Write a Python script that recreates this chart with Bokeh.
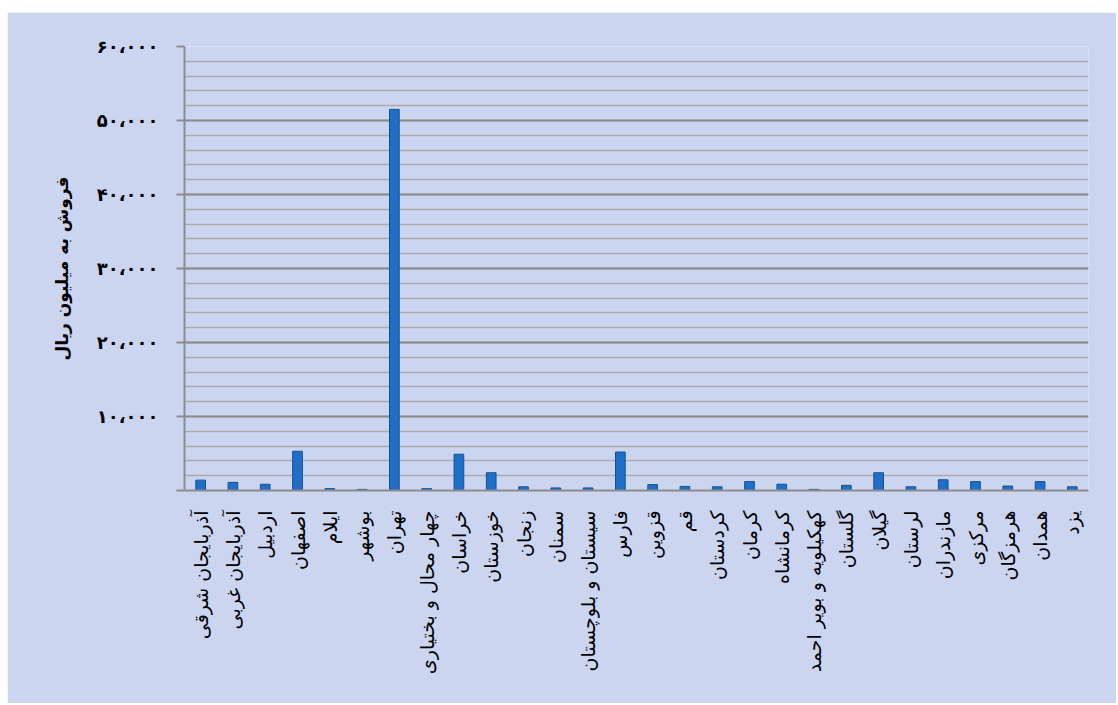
import math
from bokeh.plotting import figure
from bokeh.models import FixedTicker, Range1d, FactorRange
from bokeh.embed import file_html
from bokeh.resources import INLINE

provinces = ["آذربایجان شرقی", "آذربایجان غربی", "اردبیل", "اصفهان", "ایلام", "بوشهر",
             "تهران", "چهار محال و بختیاری", "خراسان", "خوزستان", "زنجان", "سمنان",
             "سیستان و بلوچستان", "فارس", "قزوین", "قم", "کردستان", "کرمان", "کرمانشاه",
             "کهکیلویه و بویر احمد", "گلستان", "گیلان", "لرستان", "مازندران", "مرکزی",
             "هرمزگان", "همدان", "یزد"]
sales = [1400, 1100, 850, 5300, 250, 150, 51500, 250, 4900, 2400, 500, 350,
         350, 5200, 800, 550, 500, 1200, 850, 150, 700, 2400, 500, 1450, 1200,
         600, 1200, 500]
tick_values = [0, 10000, 20000, 30000, 40000, 50000, 60000]
tick_labels = ["", "۱۰،۰۰۰", "۲۰،۰۰۰", "۳۰،۰۰۰", "۴۰،۰۰۰", "۵۰،۰۰۰", "۶۰،۰۰۰"]
y_title = "فروش به میلیون ریال"

bg = "#ccd5f0"
p = figure(width=1109, height=691, x_range=FactorRange(*provinces),
           y_range=Range1d(0, 60000), output_backend="svg", toolbar_location=None,
           min_border_left=177, min_border_right=28, min_border_top=34,
           min_border_bottom=213)
p.margin = (12, 0, 0, 7)
p.background_fill_color = bg
p.border_fill_color = bg
p.outline_line_color = None

p.vbar(x=provinces, top=sales, width=0.3, fill_color="#1f6fc8",
       line_color="#14508f", line_width=1)

p.yaxis.ticker = FixedTicker(ticks=tick_values,
                             minor_ticks=list(range(0, 60001, 2000)))
p.yaxis.major_label_overrides = {v: l for v, l in zip(tick_values, tick_labels)}
p.yaxis.axis_line_color = "#8c8c8c"
p.yaxis.axis_line_width = 2
p.yaxis.major_tick_line_color = "#8c8c8c"
p.yaxis.major_tick_line_width = 2
p.yaxis.major_tick_out = 8
p.yaxis.major_tick_in = 0
p.yaxis.minor_tick_line_color = None
p.yaxis.major_label_text_font = "DejaVu Sans"
p.yaxis.major_label_text_font_size = "18px"
p.yaxis.major_label_text_font_style = "bold"
p.yaxis.major_label_text_color = "black"
p.yaxis.major_label_standoff = 18
p.yaxis.axis_label = y_title
p.yaxis.axis_label_text_font = "DejaVu Sans"
p.yaxis.axis_label_text_font_size = "17px"
p.yaxis.axis_label_text_font_style = "bold"
p.yaxis.axis_label_text_color = "black"
p.yaxis.axis_label_standoff = 22

p.xaxis.major_label_orientation = math.pi / 2
p.xaxis.major_label_text_font = "DejaVu Sans"
p.xaxis.major_label_text_font_size = "19px"
p.xaxis.major_label_text_color = "black"
p.xaxis.major_label_standoff = 14
p.xaxis.axis_line_color = "#8c8c8c"
p.xaxis.axis_line_width = 2
p.xaxis.major_tick_line_color = None
p.xaxis.minor_tick_line_color = None

p.xgrid.grid_line_color = None
p.ygrid.grid_line_color = "#8a8a8a"
p.ygrid.grid_line_width = 2
p.ygrid.minor_grid_line_color = "#aaaaaa"
p.ygrid.minor_grid_line_width = 1.5

open("out.html", "w").write(file_html(p, INLINE))
